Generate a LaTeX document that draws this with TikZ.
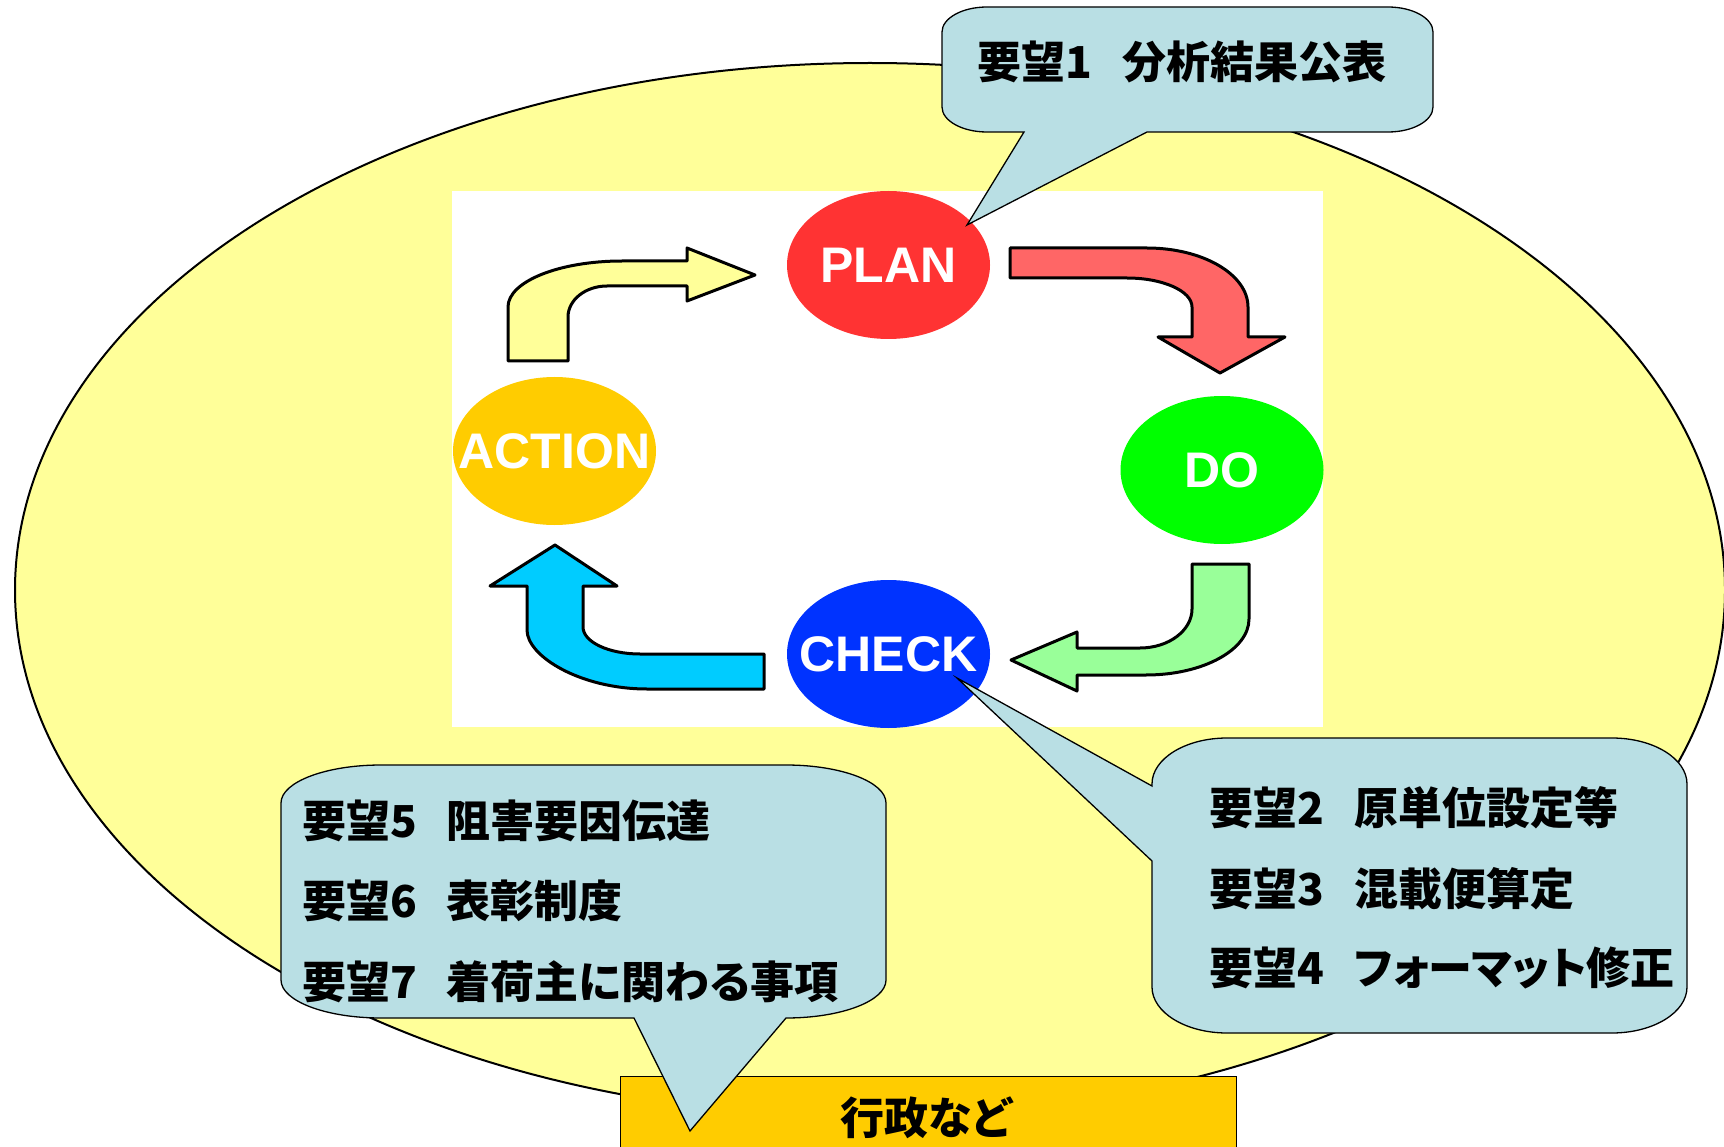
\documentclass[tikz,border=0pt]{standalone}
\usepackage{fontspec}
\newfontfamily\jp{Noto Sans CJK JP}[RawFeature=+palt]
\newfontfamily\lab{Liberation Sans}
\usetikzlibrary{shapes.geometric}
\definecolor{ellc}{HTML}{FFFF99}
\definecolor{calloutc}{HTML}{B9DFE4}
\definecolor{planc}{HTML}{FF3333}
\definecolor{doc}{HTML}{00FF00}
\definecolor{checkc}{HTML}{0033FF}
\definecolor{actc}{HTML}{FFCC00}
\definecolor{arrred}{HTML}{FF6666}
\definecolor{arryel}{HTML}{FFFF99}
\definecolor{arrgrn}{HTML}{99FF99}
\definecolor{arrcyn}{HTML}{00CCFF}
\definecolor{boxc}{HTML}{FFCC00}
\newcommand{\jsp}{{\fontsize{30}{30}\selectfont　}}
\begin{document}
\begin{tikzpicture}[x=1pt,y=-1pt,
  co/.style={fill=calloutc, draw=black, line width=1.3},
  blk/.style={draw=black, line width=3, line join=round},
  pdca/.style={ellipse, inner sep=0, minimum width=203, minimum height=148},
  pdcatxt/.style={inner sep=0, text=white, font=\lab\bfseries\fontsize{50}{50}\selectfont},
  jtxt/.style={anchor=base west, inner sep=0, font=\jp\bfseries\fontsize{44}{50}\selectfont}]
\useasboundingbox (0,0) rectangle (1724,1147);
\fill[white] (0,0) rectangle (1724,1147);
% big background ellipse
\draw[fill=ellc, line width=2] (870,590) ellipse [x radius=855, y radius=527];
% white panel
\fill[white] (452,191) rectangle (1323,727);
% PDCA nodes
\node[pdca, fill=planc] (plan) at (888.5,265) {};
\node[pdca, fill=doc] (do) at (1222,470) {};
\node[pdca, fill=checkc] (check) at (888.5,654) {};
\node[pdca, fill=actc] (action) at (554.5,451) {};
\node[pdcatxt] (plant) at (plan.center) {PLAN};
\node[pdcatxt] (dot) at (do.center) {DO};
\node[pdcatxt] (checkt) at (check.center) {CHECK};
\node[pdcatxt] (actiont) at (action.center) {ACTION};
% yellow arrow ACTION -> PLAN
\draw[blk, fill=arryel] (508,361) -- (508,307) .. controls (508,281.6) and (559,261) .. (622,261)
  -- (687,261) -- (687,248) -- (755,275) -- (687,301) -- (687,286) -- (607,286)
  .. controls (585.5,286) and (568,299.9) .. (568,317) -- (568,361) -- cycle;
% red arrow PLAN -> DO
\draw[blk, fill=arrred] (1010,248) -- (1147,248) .. controls (1202.8,248) and (1248,274.4) .. (1248,307)
  -- (1248,337) -- (1285,337) -- (1220,373) -- (1158,337) -- (1192,337) -- (1192,307)
  .. controls (1192,291) and (1162.9,278) .. (1127,278) -- (1010,278) -- cycle;
% green arrow DO -> CHECK
\draw[blk, fill=arrgrn] (1192,564) -- (1249,564) -- (1249,619) .. controls (1249,649.9) and (1202.9,675) .. (1146,675)
  -- (1077,675) -- (1077,691) -- (1011,660) -- (1077,632) -- (1077,648) -- (1140,648)
  .. controls (1168.7,648) and (1192,630.5) .. (1192,609) -- cycle;
% cyan arrow CHECK -> ACTION
\draw[blk, fill=arrcyn] (764,654) -- (764,689) -- (647,689) .. controls (580.8,689) and (527,656.4) .. (527,630)
  -- (527,586) -- (490,586) -- (555,545) -- (617,586) -- (583,586) -- (583,627)
  .. controls (583,641.9) and (608.5,654) .. (640,654) -- cycle;
% bottom box
\node[draw=black, line width=1.3, fill=boxc, anchor=north west, minimum width=616.5, minimum height=100, inner sep=0] (box) at (619.5,1076) {};
\node[jtxt, anchor=base] (gyosei) at (926,1134) {行政など};
% callout 1
\draw[co] (987,7) -- (1388,7) .. controls (1412.8,7) and (1433,18.2) .. (1433,32) -- (1433,107)
  .. controls (1433,120.8) and (1412.8,132) .. (1388,132) -- (1147,132) -- (967,225) -- (1024,132) -- (987,132)
  .. controls (962.2,132) and (942,120.8) .. (942,107) -- (942,32) .. controls (942,18.2) and (962.2,7) .. (987,7) -- cycle;
\node[jtxt] (r1) at (977,79) {要望1\jsp 分析結果公表};
% callout 2-4
\draw[co] (1227,738) -- (1612,738) .. controls (1653.4,738) and (1687,758.6) .. (1687,784) -- (1687,987)
  .. controls (1687,1012.4) and (1653.4,1033) .. (1612,1033) -- (1227,1033)
  .. controls (1185.6,1033) and (1152,1012.4) .. (1152,987) -- (1152,861) -- (957,678) -- (1152,786) -- (1152,784)
  .. controls (1152,758.6) and (1185.6,738) .. (1227,738) -- cycle;
\node[jtxt] (r2) at (1209,824) {要望2\jsp 原単位設定等};
\node[jtxt] (r3) at (1209,905) {要望3\jsp 混載便算定};
\node[jtxt] (r4) at (1209,984) {要望4\jsp フォーマット修正};
% callout 5-7
\draw[co] (381,765) -- (786,765) .. controls (841.2,765) and (886,782) .. (886,803) -- (886,980)
  .. controls (886,1001) and (841.2,1018) .. (786,1018) -- (690,1131) -- (634,1018) -- (381,1018)
  .. controls (325.8,1018) and (281,1001) .. (281,980) -- (281,803) .. controls (281,782) and (325.8,765) .. (381,765) -- cycle;
\node[jtxt] (r5) at (302,837) {要望5\jsp 阻害要因伝達};
\node[jtxt] (r6) at (302,917) {要望6\jsp 表彰制度};
\node[jtxt] (r7) at (302,998) {要望7\jsp 着荷主に関わる事項};
\end{tikzpicture}
\end{document}
